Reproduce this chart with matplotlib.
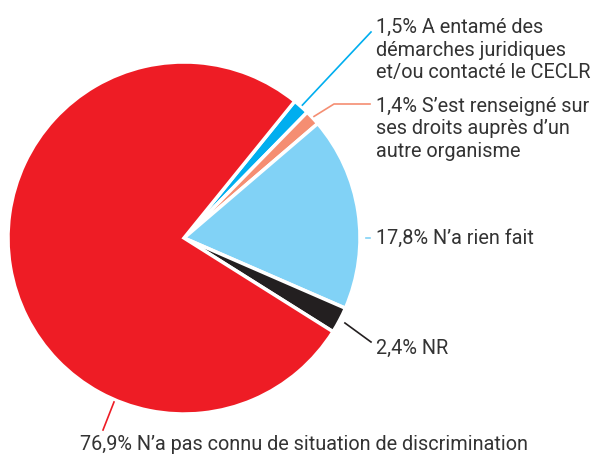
import numpy as np
import matplotlib.pyplot as plt

labels = ["A entamé des\ndémarches juridiques\net/ou contacté le CECLR",
          "S’est renseigné sur\nses droits auprès d’un\nautre organisme",
          "N’a rien fait",
          "NR",
          "N’a pas connu de situation de discrimination"]
values = [1.5, 1.4, 17.8, 2.4, 76.9]
colors = ["#00AEEF", "#F58E72", "#81D2F6", "#231F20", "#EE1C25"]

plt.rcParams['font.family'] = ['Roboto', 'DejaVu Sans']
txt = "#333333"

W, H = 595, 459
fig = plt.figure(figsize=(W / 100, H / 100), dpi=100)
ax = fig.add_axes([0, 0, 1, 1])

cx, cy, R = 184, H - 238, 176
wedges, _ = ax.pie(values, colors=colors, startangle=51, counterclock=False,
                   center=(cx, cy), radius=R, frame=True,
                   wedgeprops=dict(edgecolor='white', linewidth=2.5))
ax.set_xlim(0, W)
ax.set_ylim(0, H)
ax.set_aspect('equal')
ax.axis('off')

def anchor(w, r):
    a = np.deg2rad((w.theta1 + w.theta2) / 2)
    return cx + r * np.cos(a), cy + r * np.sin(a)

# label positions (pixel coords from top)
texts = [(376, 50), (376, 129), (376, 238), (376, 348), (80, 445)]
fs = 14.3
for i, (w, v, lab) in enumerate(zip(wedges, values, labels)):
    s = f"{v:.1f}".replace(".", ",") + "% " + lab
    tx, ty = texts[i]
    ax.text(tx, H - ty, s, fontsize=fs, color=txt, ha='left', va='center',
            linespacing=1.22)

# leader lines
c = colors
x0, y0 = anchor(wedges[0], R + 2)
ax.plot([x0, 371], [y0, H - 32], color=c[0], lw=1.2)
x0, y0 = anchor(wedges[1], R + 2)
ax.plot([x0, 334, 370], [y0, H - 104, H - 104], color=c[1], lw=1.2)
ax.plot([366, 370], [H - 238, H - 238], color=c[2], lw=1.2)
x0, y0 = anchor(wedges[3], R + 6)
ax.plot([x0, 371], [y0, H - 342], color=c[3], lw=1.2)
ax.plot([114, 103], [H - 402, H - 430], color=c[4], lw=1.2)

fig.savefig("out.png", dpi=100)
